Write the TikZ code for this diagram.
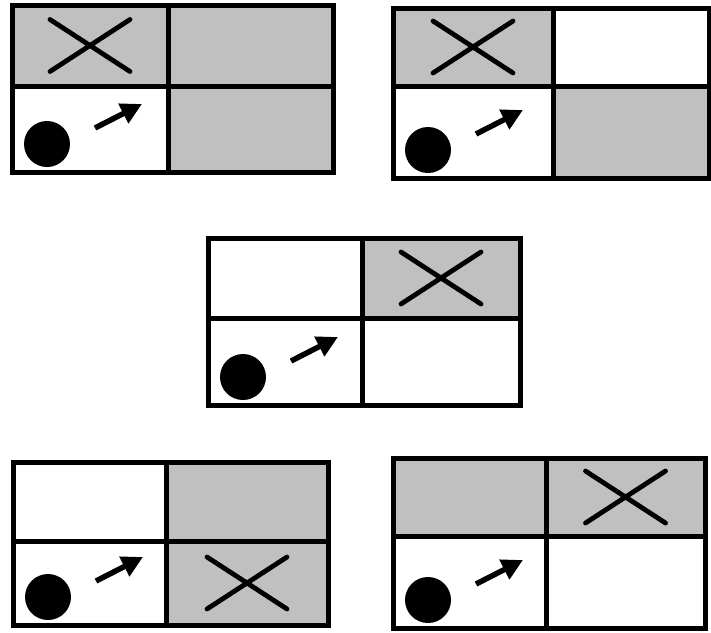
\documentclass[tikz,border=0pt]{standalone}
\usepackage{tikz}
\usetikzlibrary{arrows.meta,calc}
\definecolor{cellgray}{HTML}{C0C0C0}
\tikzset{
  gridline/.style = {line width=5pt,line join=miter},
  cross/.style    = {line width=4.8pt,line cap=round},
  ball/.style     = {fill=black},
  move/.style     = {-{Triangle[length=21pt,width=21pt]},line width=5.5pt},
}

\begin{document}
\begin{tikzpicture}[x=1pt,y=-1pt]
  \useasboundingbox (0,0) rectangle (711,632);
  % boards: left/top/right/bottom/mid-x/mid-y/fills (tl,tr,br)/cell with the cross
  \foreach \l/\t/\r/\b/\mx/\my/\ftl/\ftr/\fbr/\cell in {
      12/5/333/172/168/86/cellgray/cellgray/cellgray/tl,
      393/8/709/178/553/86/cellgray/white/cellgray/tl,
      208/238/520/405/362/318/white/cellgray/white/tr,
      13/462/328/625/166/541/white/cellgray/cellgray/br,
      393/458/705/628/546/536/cellgray/cellgray/white/tr}{
    % cell fills
    \fill[\ftl] (\l,\t) rectangle (\mx,\my);
    \fill[\ftr] (\mx,\t) rectangle (\r,\my);
    \fill[white] (\l,\my) rectangle (\mx,\b);
    \fill[\fbr] (\mx,\my) rectangle (\r,\b);
    % cell centres
    \coordinate (tl) at ({(\l+\mx)/2},{(\t+\my)/2});
    \coordinate (tr) at ({(\mx+\r)/2},{(\t+\my)/2});
    \coordinate (br) at ({(\mx+\r)/2},{(\my+\b)/2});
    % cross, ball and move
    \draw[cross] ($(\cell)+(-40,-26)$) -- ($(\cell)+(40,26)$)
                 ($(\cell)+(-40,26)$) -- ($(\cell)+(40,-26)$);
    \coordinate (ball) at (\l+35,\b-28);
    \fill[ball] (ball) circle[radius=23pt];
    \draw[move] ($(ball)+(48,-16)$) -- ($(ball)+(95,-40)$);
    % grid lines
    \draw[gridline] (\l,\t) rectangle (\r,\b)
                    (\mx,\t) -- (\mx,\b)
                    (\l,\my) -- (\r,\my);
  }
\end{tikzpicture}
\end{document}
